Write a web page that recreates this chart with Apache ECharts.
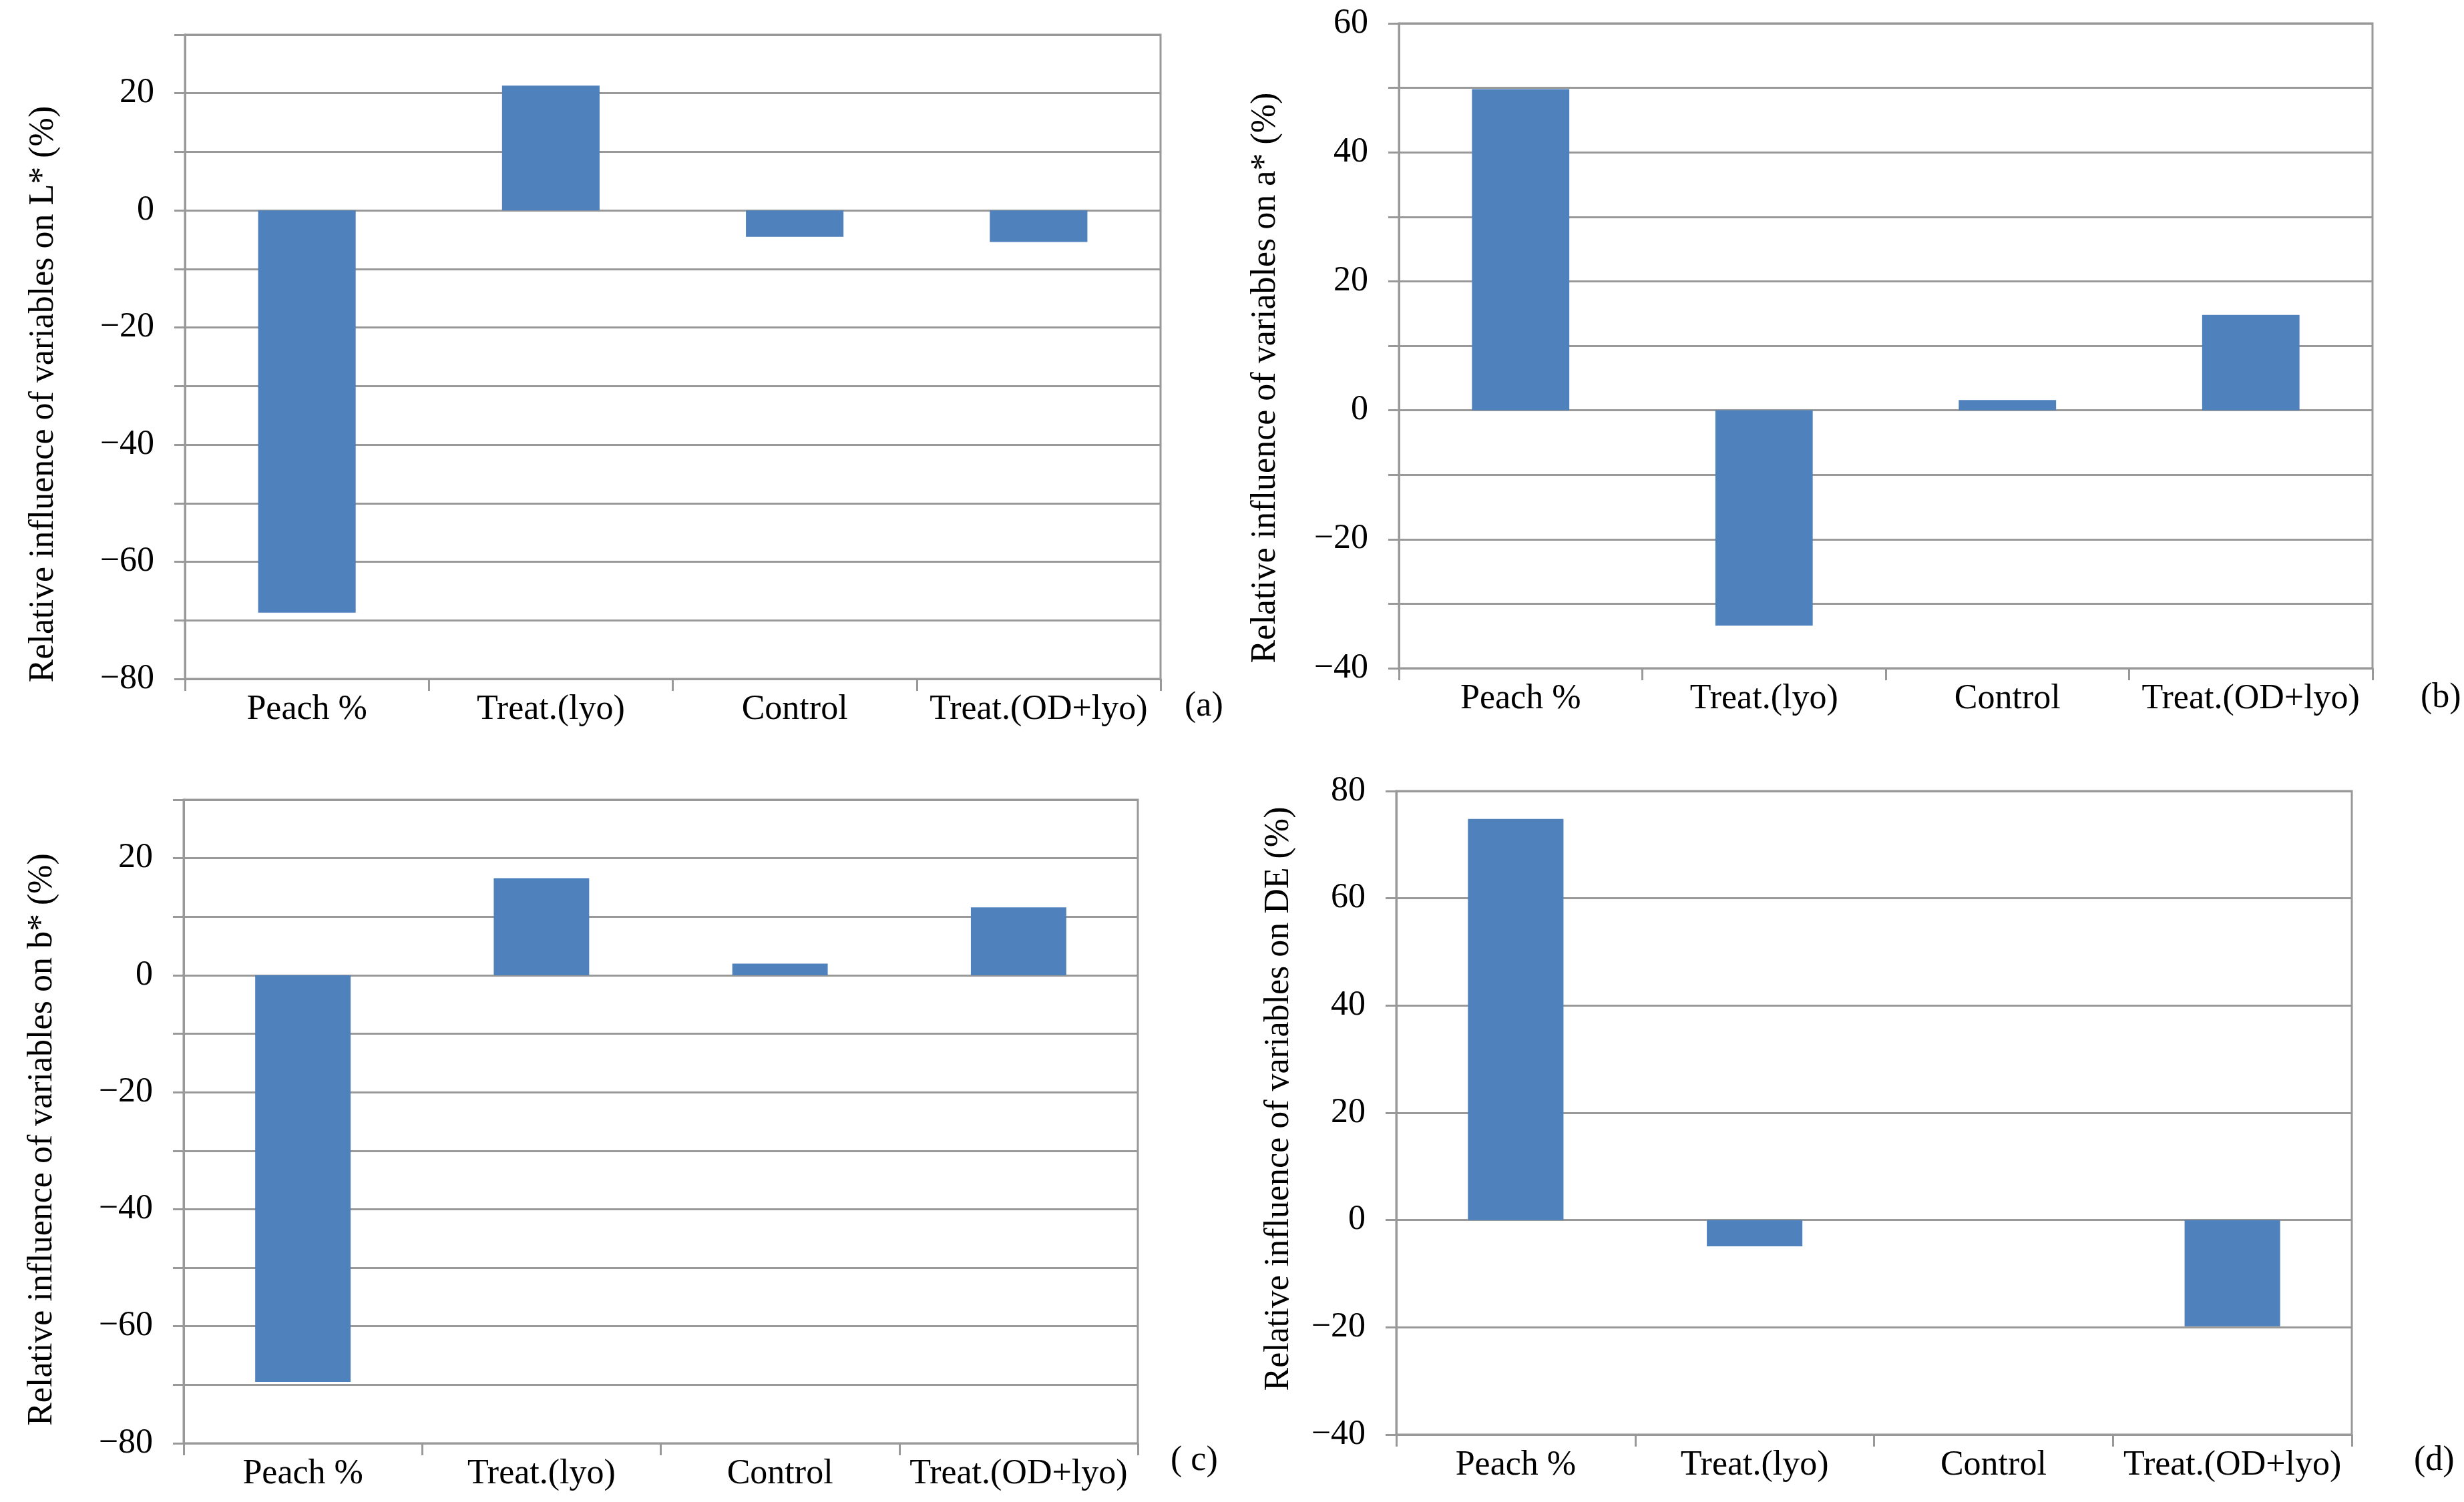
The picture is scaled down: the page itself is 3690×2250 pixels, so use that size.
<!DOCTYPE html>
<html><head><meta charset="utf-8">
<script src="https://cdn.jsdelivr.net/npm/echarts@6/dist/echarts.min.js"></script>
<style>html,body{margin:0;padding:0;background:#fff}#c{width:3690px;height:2250px}</style>
</head><body><div id="c"></div>
<script>
const categories = ['Peach %', 'Treat.(lyo)', 'Control', 'Treat.(OD+lyo)'];
const valuesL = [-68.7, 21.3, -4.5, -5.4];
const valuesA = [49.8, -33.4, 1.6, 14.8];
const valuesB = [-69.5, 16.6, 2.0, 11.6];
const valuesDE = [74.8, -4.9, 0, -19.8];
const axisTitles = [
  'Relative influence of variables on L* (%)',
  'Relative influence of variables on a* (%)',
  'Relative influence of variables on b* (%)',
  'Relative influence of variables on DE (%)'
];
const panelLabels = ['(a)', '(b)', '( c)', '(d)'];
const yMin = [-80, -40, -80, -40];
const yMax = [30, 60, 30, 80];
const yStep = [10, 10, 10, 20];
const labelStep = 20;

const allValues = [valuesL, valuesA, valuesB, valuesDE];
const FONT = '"Liberation Serif", "DejaVu Serif", serif';
const FS = 52;
const GRAY = '#999999';
const BLUE = '#4F81BD';

const grids = [
  {left: 277, top: 52, width: 1461, height: 965},
  {left: 2095, top: 35, width: 1458, height: 966},
  {left: 275, top: 1198, width: 1429, height: 964},
  {left: 2091, top: 1185, width: 1431, height: 964}
];
const nameGaps = [186, 174, 186, 150];
const namePads = [[0, 112, 0, 0], [0, 96, 0, 0], [0, 54, 0, 0], [0, 0, 0, 42]];
const labelPos = [[1774, 1032], [3625, 1019], [1753, 2162], [3615, 2162]];

function fmt(v) {
  if (Math.round(v) % labelStep !== 0) return '';
  return v < 0 ? '\u2212' + Math.abs(v) : String(v);
}

const option = {
  backgroundColor: '#fff',
  animation: false,
  textStyle: {fontFamily: FONT},
  title: panelLabels.map((t, i) => ({
    text: t, left: labelPos[i][0], top: labelPos[i][1], padding: 0,
    textStyle: {fontFamily: FONT, fontSize: FS, fontWeight: 'normal', color: '#000'}
  })),
  grid: grids.map(g => Object.assign({show: true, borderColor: GRAY, borderWidth: 3, containLabel: false}, g)),
  xAxis: grids.map((g, i) => ({
    type: 'category', gridIndex: i, data: categories,
    axisLine: {show: true, onZero: false, lineStyle: {color: GRAY, width: 3}},
    axisTick: {show: true, length: 18, lineStyle: {color: GRAY, width: 3}},
    axisLabel: {fontFamily: FONT, fontSize: FS, color: '#000', margin: 20, interval: 0},
    splitLine: {show: false}
  })),
  yAxis: grids.map((g, i) => ({
    type: 'value', gridIndex: i, min: yMin[i], max: yMax[i], interval: yStep[i],
    name: axisTitles[i], nameLocation: 'middle', nameGap: nameGaps[i], nameRotate: 90,
    nameTextStyle: {fontFamily: FONT, fontSize: FS, color: '#000', padding: namePads[i]},
    axisLine: {show: true, lineStyle: {color: GRAY, width: 3}},
    axisTick: {show: true, length: 16, lineStyle: {color: GRAY, width: 3}},
    axisLabel: {fontFamily: FONT, fontSize: FS, color: '#000', margin: 46, formatter: fmt},
    splitLine: {show: true, lineStyle: {color: GRAY, width: 3}}
  })),
  series: allValues.map((vals, i) => ({
    type: 'bar', xAxisIndex: i, yAxisIndex: i, data: vals,
    barWidth: '40%', itemStyle: {color: BLUE}
  }))
};

const chart = echarts.init(document.getElementById('c'), null, {renderer: 'canvas'});
chart.setOption(option);
</script>
</body></html>
